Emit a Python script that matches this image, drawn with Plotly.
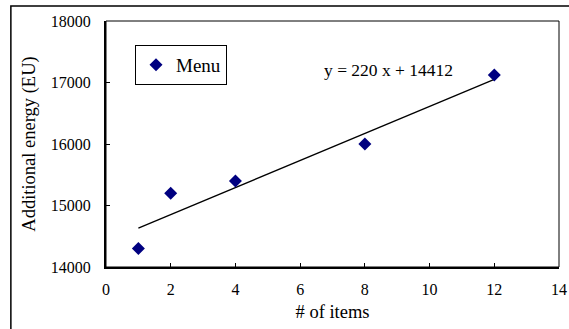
import plotly.graph_objects as go

items = [1, 2, 4, 8, 12]
energy = [14300, 15200, 15400, 16000, 17120]
slope = 220
intercept = 14412
trend_x = [1, 12]
trend_y = [slope * x + intercept for x in trend_x]
x_ticks = [0, 2, 4, 6, 8, 10, 12, 14]
y_ticks = [14000, 15000, 16000, 17000, 18000]
y_tick_text = [str(v) for v in y_ticks]

FONT = "Liberation Serif, Times New Roman, serif"

fig = go.Figure()
fig.add_trace(go.Scatter(x=trend_x, y=trend_y, mode="lines",
                         line=dict(color="black", width=1.3),
                         showlegend=False, hoverinfo="skip"))
fig.add_trace(go.Scatter(x=items, y=energy, mode="markers", name="Menu",
                         marker=dict(symbol="diamond", size=10, color="#000080",
                                     line=dict(width=0))))

fig.update_layout(
    width=569, height=329,
    margin=dict(l=106, r=10, t=21, b=62, autoexpand=False),
    paper_bgcolor="white", plot_bgcolor="white",
    font=dict(family=FONT, size=16, color="black"),
    legend=dict(x=0.064, y=0.903, xanchor="left", yanchor="top",
                bordercolor="black", borderwidth=1, bgcolor="white",
                font=dict(family=FONT, size=19),
                itemwidth=30, tracegroupgap=0),
    xaxis=dict(range=[0, 14], tickvals=x_ticks, ticks="inside", ticklen=4,
               tickcolor="black", showgrid=False, zeroline=False,
               showline=True, linecolor="black", linewidth=2,
               ticklabelstandoff=7, ticklabeloverflow="allow",
               title=dict(text="# of items", font=dict(family=FONT, size=18.5), standoff=8),
               tickfont=dict(family=FONT, size=16)),
    yaxis=dict(range=[14000, 18000], tickvals=y_ticks, ticktext=y_tick_text,
               ticks="inside", ticklen=4,
               tickcolor="black", showgrid=False, zeroline=False,
               showline=True, linecolor="black", linewidth=2,
               ticklabelstandoff=10,
               title=dict(text="Additional energy (EU)", font=dict(family=FONT, size=18.5), standoff=10),
               tickfont=dict(family=FONT, size=16)),
    shapes=[
        dict(type="rect", xref="paper", yref="paper", x0=0, x1=1, y0=0, y1=1,
             line=dict(color="black", width=1)),
        dict(type="rect", xref="paper", yref="paper", x0=-0.21, x1=2, y0=-1, y1=1.061,
             line=dict(color="black", width=1.5)),
    ],
    annotations=[
        dict(x=6.67, y=17200, xref="x", yref="y", xanchor="left", yanchor="middle",
             text="y = 220 x + 14412", showarrow=False,
             font=dict(family=FONT, size=17.5, color="black")),
    ],
)

fig.write_html("out.html", config={"displayModeBar": False},
               post_script="document.body.style.margin='0';document.body.style.overflow='hidden';")
